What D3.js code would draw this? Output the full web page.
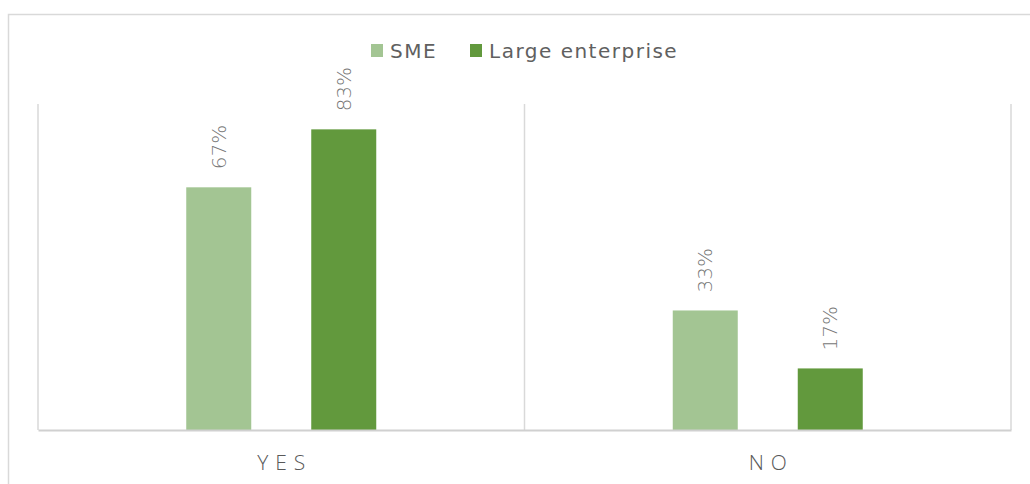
<!DOCTYPE html>
<html>
<head>
<meta charset="utf-8">
<script src="https://cdn.jsdelivr.net/npm/d3@7"></script>
<style>
  html, body { margin: 0; padding: 0; background: #fff; }
  svg { display: block; font-family: "DejaVu Sans", "Open Sans", sans-serif; }
</style>
</head>
<body>
<svg id="chart" width="1030" height="484"></svg>
<script>
// Survey answers by company size
const categories = ["YES", "NO"];
const seriesNames = ["SME", "Large enterprise"];
const smeValues = [0.67, 0.33];
const largeValues = [0.83, 0.17];
const seriesColors = ["#a3c593", "#62993d"];

const rows = categories.map((c, i) => ({
  category: c,
  values: [smeValues[i], largeValues[i]]
}));

const svg = d3.select("#chart");
const W = 1030, H = 484;

// chart frame
svg.append("rect")
  .attr("x", 8.5).attr("y", 14.5)
  .attr("width", W + 10).attr("height", H + 10)
  .attr("fill", "none").attr("stroke", "#d9d9d9").attr("stroke-width", 1.5);

const plot = { left: 38, right: 1011, top: 104, bottom: 430 };

const x = d3.scaleBand()
  .domain(categories)
  .range([plot.left, plot.right])
  .paddingInner(0).paddingOuter(0);

// bars occupy 190px centered in each category band
const groupWidth = 190;
const xInner = d3.scaleBand()
  .domain(seriesNames)
  .range([(x.bandwidth() - groupWidth) / 2, (x.bandwidth() + groupWidth) / 2])
  .paddingInner(60 / 125)
  .paddingOuter(0);

const y = d3.scaleLinear().domain([0, 0.9]).range([plot.bottom, plot.top]);

// vertical category separators
const sepX = [plot.left, ...categories.map(c => x(c) + x.bandwidth())];
svg.append("g").selectAll("line").data(sepX).join("line")
  .attr("x1", d => d).attr("x2", d => d)
  .attr("y1", plot.top).attr("y2", plot.bottom)
  .attr("stroke", "#d9d9d9").attr("stroke-width", 1.5);

// bars
const groups = svg.append("g").selectAll("g").data(rows).join("g")
  .attr("transform", d => `translate(${x(d.category)},0)`);

groups.selectAll("rect")
  .data(d => d.values.map((v, i) => ({ name: seriesNames[i], v, i })))
  .join("rect")
  .attr("x", d => xInner(d.name))
  .attr("width", xInner.bandwidth())
  .attr("y", d => y(d.v))
  .attr("height", d => y(0) - y(d.v))
  .attr("fill", d => seriesColors[d.i]);

// rotated value labels
groups.selectAll("text.val")
  .data(d => d.values.map((v, i) => ({ name: seriesNames[i], v, i })))
  .join("text")
  .attr("class", "val")
  .attr("transform", d => `translate(${xInner(d.name) + xInner.bandwidth() / 2 + 7},${y(d.v) - 18}) rotate(-90)`)
  .attr("text-anchor", "start")
  .attr("font-size", 20)
  .attr("font-weight", 300)
  .attr("fill", "#767676")
  .text(d => d3.format(".0%")(d.v));

// x axis baseline
const xAxis = d3.axisBottom(x).tickSize(0).tickPadding(0);
const axisG = svg.append("g").attr("transform", `translate(0,${plot.bottom})`).call(xAxis);
axisG.select(".domain").attr("stroke", "#d0d0d0").attr("stroke-width", 2);
axisG.selectAll(".tick text")
  .attr("y", 40)
  .attr("dy", 0)
  .attr("font-size", 21)
  .attr("font-family", "\"Open Sans\", sans-serif")
  .attr("font-weight", 300)
  .attr("letter-spacing", "7px")
  .attr("fill", "#595959")
  .attr("dx", "3.5px");

// legend
const legendItems = [
  { name: seriesNames[0], color: seriesColors[0], x: 371 },
  { name: seriesNames[1], color: seriesColors[1], x: 470 }
];
const lg = svg.append("g").selectAll("g").data(legendItems).join("g")
  .attr("transform", d => `translate(${d.x},44)`);
lg.append("rect").attr("width", 12).attr("height", 13).attr("fill", d => d.color);
lg.append("text").attr("x", 19).attr("y", 14)
  .attr("font-size", 20).attr("letter-spacing", "1.5px").attr("fill", "#606060")
  .text(d => d.name);
</script>
</body>
</html>
